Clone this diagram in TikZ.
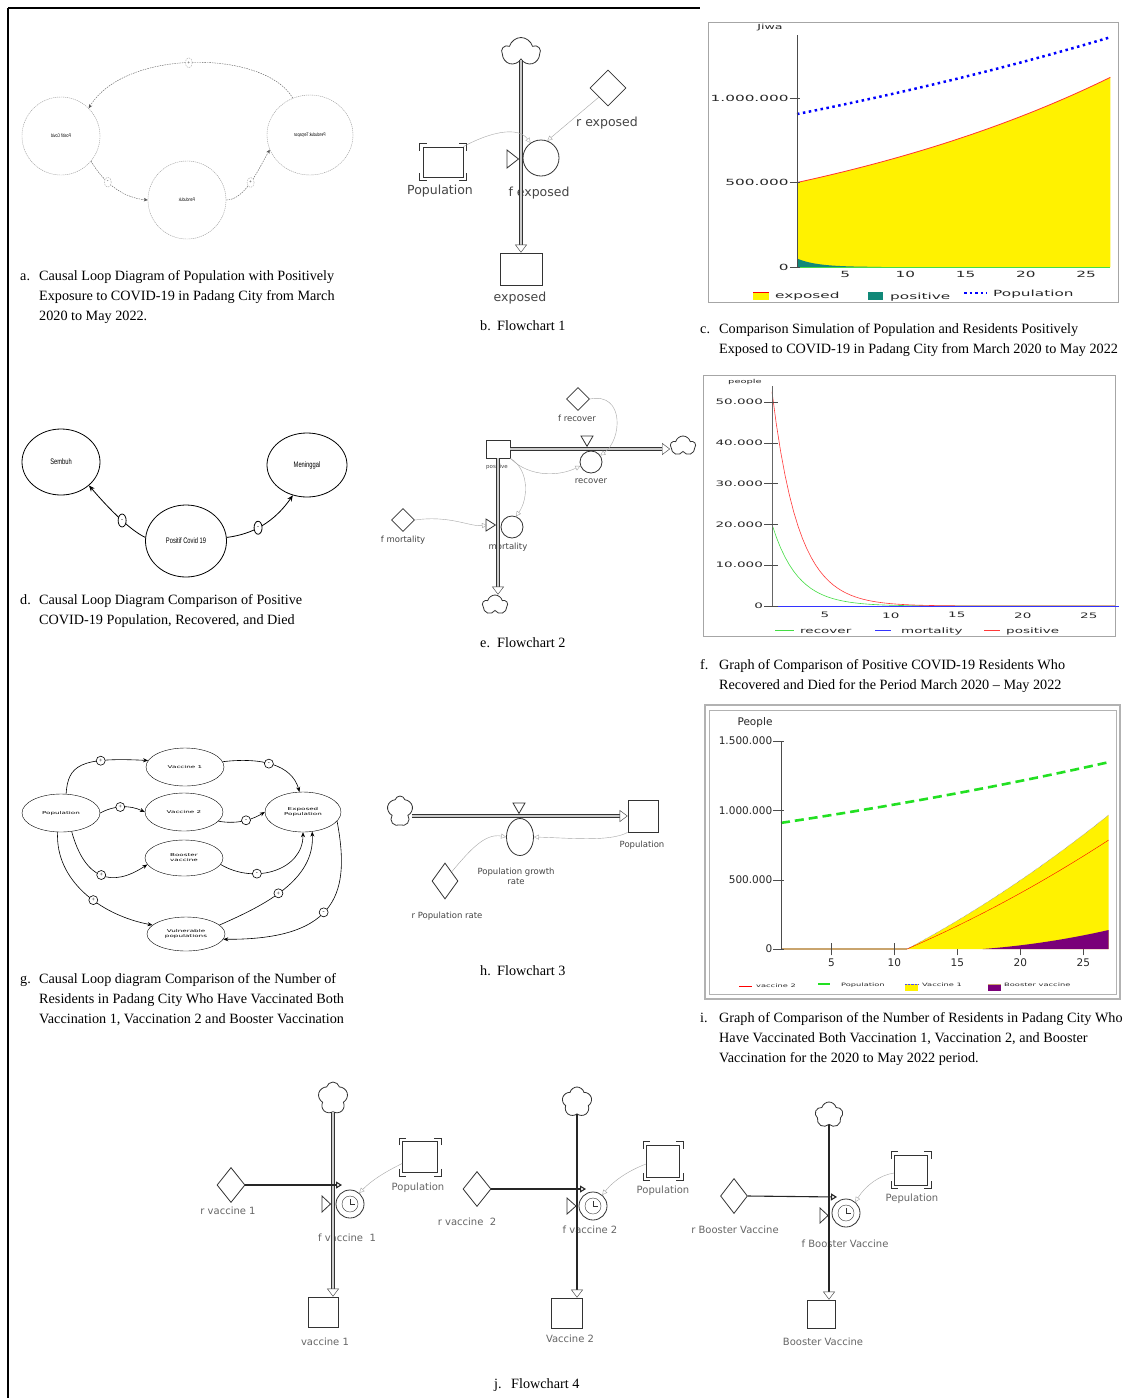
\documentclass[tikz,border=0pt]{standalone}
\usepackage{graphicx}
\usepackage{fontspec}
\setmainfont{Liberation Serif}
\newfontfamily\capfont{Liberation Serif}
\newfontfamily\flowfont{DejaVu Sans}
\newfontfamily\chartfont[FakeStretch=1.8]{DejaVu Sans}
\newfontfamily\narrowfont[FakeStretch=0.72]{Liberation Sans}
\usetikzlibrary{arrows.meta,shapes.geometric,shapes.symbols,calc}

\definecolor{tanline}{HTML}{C9A46E}
\definecolor{lblgray}{HTML}{454545}
\definecolor{popgreen}{HTML}{22E022}
\definecolor{boostpurple}{HTML}{7A0079}
\definecolor{posteal}{HTML}{108878}
\definecolor{recgreen}{HTML}{44DD44}
\definecolor{posred}{HTML}{FF3838}

% corner brackets of a shadow stock
\newcommand\ghostmarks[1]{%
  \foreach \a/\cx/\cy/\vy/\hx in {north west/-3/3/-4/4, north east/3/3/-4/-4, south west/-3/-3/4/4, south east/3/-3/4/-4}
    \draw[thick,black!80] ([shift={(\cx pt,\vy pt)}]#1.\a) -- ([shift={(\cx pt,\cy pt)}]#1.\a) -- ([shift={(\hx pt,\cy pt)}]#1.\a);}
% clock face inside a flow circle
\newcommand\clockface[1]{%
  \draw[black!80] (#1.center) circle (8);
  \draw[black!80] (#1.center) -- ++(0,-5.5) (#1.center) -- ++(4.5,0);}

\begin{document}
\begin{tikzpicture}[x=1pt,y=-1pt,>=stealth,
  capt/.style={font=\capfont\fontsize{14.2}{20}\selectfont, align=left, anchor=north west, inner sep=0pt},
  cldc/.style={circle, draw=gray!80, dash pattern=on 1.2pt off 0.8pt, minimum size=78pt, inner sep=0pt, font=\narrowfont\fontsize{5}{6}\selectfont},
  cldarrA/.style={draw=gray!70!black, dash pattern=on 1.5pt off 1pt, -{Stealth[length=4pt,width=3.5pt]}},
  sgnA/.style={ellipse, draw=gray!70, fill=white, inner sep=0pt, minimum width=7pt, minimum height=10pt, font=\fontsize{5}{5}\selectfont},
  clde/.style={ellipse, draw, thick, inner sep=0pt, font=\narrowfont\fontsize{8}{9}\selectfont},
  cldarrD/.style={thick, -{Stealth[length=6pt,width=5pt]}},
  sgnD/.style={ellipse, draw, fill=white, inner sep=0pt, minimum width=8pt, minimum height=13pt, font=\fontsize{6}{6}\selectfont},
  cldg/.style={ellipse, draw, inner sep=0pt, minimum width=78pt, minimum height=38pt, align=center, font=\chartfont\fontsize{4}{5}\selectfont},
  cldarrG/.style={semithick, -{Stealth[length=5pt,width=4pt]}},
  sgnG/.style={circle, draw, fill=white, inner sep=0pt, minimum size=9pt, font=\fontsize{6}{6}\selectfont},
  stock/.style={rectangle, draw=black!80, thick, fill=white, inner sep=0pt},
  aux/.style={diamond, draw=black!80, thick, fill=white, inner sep=0pt},
  flowc/.style={circle, draw=black!80, thick, fill=white, inner sep=0pt},
  valvetri/.style={draw=black!80, thick, fill=white},
  cloudsym/.style={cloud, cloud puffs=5, cloud ignores aspect, draw=black!80, thick, fill=white, inner sep=0pt},
  pipe/.style={draw=black!80, double=gray!40, double distance=2.4pt, line width=0.8pt},
  pipesolid/.style={draw=black!85, line width=1.6pt},
  ptip/.style={-{Triangle[fill=white,length=8pt,width=12pt]}, draw=black!80, thin},
  link/.style={draw=gray!70, thin, -{Triangle[open,length=5pt,width=5pt]}},
  ratearr/.style={draw=black!85, line width=1.1pt, -{Triangle[open,length=6pt,width=7pt]}},
  flowlbl/.style={text=lblgray, inner sep=1pt, font=\flowfont\fontsize{12.5}{14}\selectfont},
  lble/.style={text=lblgray, inner sep=1pt, font=\flowfont\fontsize{8.5}{10}\selectfont},
  lblj/.style={text=black!60, inner sep=1pt, font=\flowfont\fontsize{10}{12}\selectfont},
  ctxt/.style={text=black!85, inner sep=1pt, font=\chartfont\fontsize{8.5}{9}\selectfont},
  ftxt/.style={text=black!85, inner sep=1pt, font=\chartfont\fontsize{7.5}{8}\selectfont},
  itxt/.style={text=black!85, inner sep=1pt, font=\flowfont\fontsize{10.5}{12}\selectfont},
  ileg/.style={text=black!85, inner sep=1pt, anchor=west, font=\chartfont\fontsize{4.6}{5}\selectfont}]
\fill[white] (0,0) rectangle (1129,1398);
\useasboundingbox (0,0) rectangle (1129,1398);
% page rules
\draw[line width=2pt] (8,8) -- (700,8);
\draw[line width=1.2pt] (8,8) -- (8,1398);

% a: causal loop, positif covid
\begin{scope}
\node[cldc] (aPos) at (61,136) {\scalebox{-1}[1]{Positif Covid}};
\node[cldc] (aPen) at (187,200) {\scalebox{-1}[1]{Penduduk}};
\node[cldc, ellipse, minimum width=86pt, minimum height=80pt] (aTer) at (310,135) {\scalebox{-1}[1]{Penduduk Terpapar}};
\draw[cldarrA] (aTer.115) .. controls (265,50) and (125,48) .. (aPos.45) node[sgnA, pos=0.52] (aS1) {+};
\draw[cldarrA] (aPos.-40) .. controls (105,185) and (125,198) .. (aPen.west) node[sgnA, pos=0.35] (aS2) {-};
\draw[cldarrA] (aPen.east) .. controls (245,200) and (258,170) .. (aTer.200) node[sgnA, pos=0.5] (aS3) {+};
\end{scope}

% b: flowchart 1
\begin{scope}
\node[cloudsym, minimum width=38pt, minimum height=29pt] (bCloud) at (521,52) {};
\node[stock, minimum width=42pt, minimum height=32pt] (bExp) at (521,269) {};
\node[flowlbl] (bExpL) at (520,298) {exposed};
\node[flowlbl] (bFlowL) at (539,193) {f exposed};
\coordinate (bEnd) at (bCloud.south |- bExp.north);
\draw[pipe] (bCloud.south) -- ([yshift=8pt]bEnd);
\draw[ptip] ([yshift=8pt]bEnd) -- (bEnd);
\draw[valvetri] (507,150) -- (518.5,159) -- (507,168) -- cycle;
\node[flowc, minimum size=36pt] (bFlow) at (541,158) {};
\node[stock, minimum width=40pt, minimum height=30pt] (bPop) at (443,162) {};
\ghostmarks{bPop}
\node[flowlbl] (bPopL) at (440,191) {Population};
\node[aux, minimum size=36pt] (bRate) at (608,88) {};
\node[flowlbl] (bRateL) at (607,123) {r exposed};
\draw[link] (bPop.north east) .. controls (490,132) and (518,126) .. (bFlow.125);
\draw[link] (bRate.south west) -- (bFlow.70);
\end{scope}

% c: graph, population and exposed
\begin{scope}
\draw[gray!70] (708,22) rectangle (1118,302);
\begin{scope}[shift={(797,267)}, x=12.05pt, y=169pt]
\fill[yellow] (0,0) -- plot[domain=0:26,samples=40] (\x,{0.5*exp(0.0311*\x)}) -- (26,0) -- cycle;
\draw[red!80, line width=0.8pt] plot[domain=0:26,samples=40] (\x,{0.5*exp(0.0311*\x)});
\fill[posteal] (0,0) -- plot[domain=0:7,samples=20] (\x,{0.05*exp(-0.6*\x)}) -- (7,0) -- cycle;
\draw[recgreen] (0,0) -- (26,0);
\draw[blue, line width=2.5pt, dash pattern=on 2.5pt off 3.5pt] plot[domain=0:26,samples=40] (\x,{0.905*exp(0.01566*\x)});
\draw[black!70] (0,0) -- (0,1.37);
\foreach \v/\l [count=\i] in {0/0, 0.5/500.000, 1/1.000.000} {
  \draw[black!70] (-0.6,\v) -- (0.25,\v);
  \node[ctxt, anchor=east] (cy\i) at (-0.6,\v) {\l};
}
\foreach \t in {5,10,...,25}
  \node[ctxt, anchor=north] (cx\t) at (\t-1,-0.02) {\t};
\end{scope}
\node[ctxt, font=\chartfont\fontsize{7}{8}\selectfont] (cJiwa) at (770,28) {Jiwa};
\fill[yellow] (753,292) rectangle (769,300);
\draw[red, line width=1pt] (753,292) -- (769,292);
\node[ctxt, anchor=west] (cLgExp) at (774,296) {exposed};
\fill[posteal] (868,292) rectangle (883,300);
\node[ctxt, anchor=west] (cLgPos) at (889,297) {positive};
\draw[blue, line width=2.5pt, dash pattern=on 2.5pt off 3pt] (964,293) -- (987,293);
\node[ctxt, anchor=west] (cLgPop) at (992,294) {Population};
\end{scope}

% d: causal loop, positive covid
\begin{scope}
\node[clde, minimum width=78pt, minimum height=66pt] (dSem) at (61,462) {Sembuh};
\node[clde, minimum width=80pt, minimum height=64pt] (dMen) at (307,465) {Meninggal};
\node[clde, minimum width=81pt, minimum height=72pt] (dPos) at (186,541) {Positif Covid 19};
\draw[cldarrD] (dPos.175) .. controls (130,530) and (110,510) .. (dSem.-40) node[sgnD, pos=0.45] (dS1) {-};
\draw[cldarrD] (dPos.5) .. controls (245,535) and (270,528) .. (dMen.-115) node[sgnD, pos=0.5] (dS2) {-};
\end{scope}

% e: flowchart 2
\begin{scope}
\node[stock, minimum width=24pt, minimum height=18pt] (ePos) at (498,449) {};
\node[lble, font=\flowfont\fontsize{5.5}{6}\selectfont] (ePosL) at (497,467) {positive};
\node[cloudsym, minimum width=25pt, minimum height=20pt] (eCloudR) at (683,446) {};
\node[cloudsym, minimum width=25pt, minimum height=20pt] (eCloudB) at (495,605) {};
\node[lble] (eMortL) at (508,547) {mortality};
\coordinate (eEndR) at (eCloudR.west |- ePos.east);
\draw[pipe] (ePos.east) -- ([xshift=-8pt]eEndR);
\draw[ptip] ([xshift=-8pt]eEndR) -- (eEndR);
\coordinate (eEndB) at (ePos.south |- eCloudB.north);
\draw[pipe] (ePos.south) -- ([yshift=8pt]eEndB);
\draw[ptip] ([yshift=8pt]eEndB) -- (eEndB);
\draw[valvetri] (581,436) -- (593,436) -- (587,446.3) -- cycle;
\node[flowc, minimum size=22pt] (eRec) at (591,462) {};
\node[lble] (eRecL) at (591,481) {recover};
\node[aux, minimum size=23pt] (eFR) at (578,399) {};
\node[lble] (eFRL) at (577,418) {f recover};
\draw[valvetri] (486,519) -- (495.4,525) -- (486,531) -- cycle;
\node[flowc, minimum size=22pt] (eMort) at (512,527) {};
\node[aux, minimum size=23pt] (eFM) at (403,520) {};
\node[lble] (eFML) at (403,540) {f mortality};
\coordinate (eMortIn) at (487,525);
\draw[link] (eFR.east) .. controls (625,392) and (622,440) .. (eRec.35);
\draw[link] (ePos.south east) .. controls (530,478) and (560,476) .. (eRec.200);
\draw[link] (ePos.south east) .. controls (530,470) and (528,500) .. (eMort.70);
\draw[link] (eFM.east) .. controls (450,515) and (470,527) .. (eMortIn);
\end{scope}

% f: graph, positive recover mortality
\begin{scope}
\draw[gray!70] (703,375) rectangle (1115,636);
\begin{scope}[shift={(772,606)}, x=13.2pt, y=4.08pt]
\draw[recgreen, semithick] plot[domain=0:26,samples=80] (\x,{20*exp(-0.52*\x)});
\draw[posred, semithick] plot[domain=0:26,samples=80] (\x,{52.5*exp(-0.5*\x)});
\draw[blue!80, semithick] (0,0) -- (26.3,0);
\draw[black!60] (0,0) -- (0,54);
\foreach \v/\l [count=\i] in {0/0, 10/10.000, 20/20.000, 30/30.000, 40/40.000, 50/50.000} {
  \draw[black!70] (-0.6,\v) -- (0.45,\v);
  \node[ftxt, anchor=east] (fy\i) at (-0.6,\v) {\l};
}
\foreach \t in {5,10,...,25}
  \node[ftxt, anchor=north] (fx\t) at (\t-1,-1.3) {\t};
\end{scope}
\node[ftxt, font=\chartfont\fontsize{5.5}{6}\selectfont] (fPeople) at (745,382) {people};
\draw[recgreen, semithick] (775,630) -- (794,630);
\node[ftxt, anchor=west] (fLgRec) at (799,631) {recover};
\draw[blue!80, semithick] (875,630) -- (891,630);
\node[ftxt, anchor=west] (fLgMort) at (900,631) {mortality};
\draw[posred, semithick] (984,630) -- (1000,630);
\node[ftxt, anchor=west] (fLgPos) at (1005,631) {positive};
\end{scope}

% g: causal loop, vaccination
\begin{scope}
\node[cldg] (gPop) at (61,813) {Population};
\node[cldg] (gV1) at (185,767) {Vaccine 1};
\node[cldg] (gV2) at (184,812) {Vaccine 2};
\node[cldg, minimum height=36pt] (gBo) at (184,858) {Booster\\vaccine};
\node[cldg, minimum width=76pt, minimum height=40pt] (gEx) at (303,812) {Exposed\\Population};
\node[cldg, minimum height=34pt] (gVu) at (186,934) {Vulnerable\\populations};
\draw[cldarrG] (gPop.75) .. controls (68,765) and (80,757) .. (gV1.170) node[sgnG, pos=0.7] (gS1) {+};
\draw[cldarrG] (gV1.8) .. controls (262,757) and (292,765) .. (gEx.100) node[sgnG, pos=0.45] (gS2) {-};
\draw[cldarrG] (gPop.east) .. controls (115,805) and (130,805) .. (gV2.west) node[sgnG, pos=0.45] (gS3) {+};
\draw[cldarrG] (gV2.-15) .. controls (240,825) and (255,818) .. (gEx.west) node[sgnG, pos=0.5] (gS4) {-};
\draw[cldarrG] (gPop.-60) .. controls (85,880) and (112,888) .. (gBo.190) node[sgnG, pos=0.5] (gS5) {+};
\draw[cldarrG] (gBo.-10) .. controls (255,885) and (303,870) .. (gEx.south) node[sgnG, pos=0.33] (gS6) {-};
\draw[cldarrG] (gPop.-100) .. controls (55,880) and (100,915) .. (gVu.165) node[sgnG, pos=0.58] (gS7) {+};
\draw[cldarrG] (gVu.15) .. controls (265,905) and (315,880) .. (gEx.-65) node[sgnG, pos=0.45] (gS8) {+};
\draw[cldarrG] (gEx.-15) .. controls (350,890) and (340,940) .. (gVu.-8) node[sgnG, pos=0.55] (gS9) {-};
\end{scope}

% h: flowchart 3
\begin{scope}
\node[cloudsym, minimum width=26pt, minimum height=30pt] (hCloud) at (400,811) {};
\node[stock, minimum width=30pt, minimum height=32pt] (hPop) at (643,816) {};
\node[lble] (hPopL) at (642,845) {Population};
\coordinate (hEnd) at (hPop.west);
\draw[pipe] (hCloud.east |- hEnd) -- ([xshift=-8pt]hEnd);
\draw[ptip] ([xshift=-8pt]hEnd) -- (hEnd);
\draw[valvetri] (513,803) -- (525,803) -- (519,813.4) -- cycle;
\node[flowc, ellipse, minimum width=27pt, minimum height=37pt] (hRate) at (520,837) {};
\node[lble, align=center] (hRateL) at (516,876) {Population growth\\rate};
\node[aux, minimum width=26pt, minimum height=36pt] (hR) at (445,881) {};
\node[lble] (hRL) at (447,916) {r Population rate};
\draw[link] (hR.north east) .. controls (470,850) and (485,833) .. (hRate.west);
\draw[link] (hPop.south west) .. controls (610,842) and (570,838) .. (hRate.east);
\end{scope}

% i: graph, vaccination
\begin{scope}
\draw[gray!60, line width=1.2pt] (705,705) rectangle (1120,999);
\draw[gray!60, thin] (709,710) rectangle (1116,994);
\begin{scope}[shift={(781,949)}, x=12.6pt, y=138.6pt]
\draw[posred!60, thin] (0,0.004) -- (10,0.004);
\draw[tanline, line width=1.2pt] (0,0) -- (10,0);
\foreach \t in {5,10,...,25}
  \draw[black!70] (\t-1,-0.045) -- (\t-1,0.045);
\fill[yellow] (10,0) -- plot[domain=10:26,samples=30] (\x,{0.967*(0.8*(\x-10)/16+0.2*((\x-10)/16)^2)}) -- (26,0) -- cycle;
\draw[blue!70, densely dotted, thin] plot[domain=10:26,samples=30] (\x,{0.967*(0.8*(\x-10)/16+0.2*((\x-10)/16)^2)});
\draw[red, thin] plot[domain=10:26,samples=30] (\x,{0.786*(0.8*(\x-10)/16+0.2*((\x-10)/16)^2)});
\fill[boostpurple] (16,0) -- plot[domain=16:26,samples=20] (\x,{0.137*(0.5*(\x-16)/10+0.5*((\x-16)/10)^2)}) -- (26,0) -- cycle;
\draw[popgreen, line width=2.6pt, dash pattern=on 9pt off 5pt] plot[domain=0:26,samples=40] (\x,{0.91*exp(0.0151*\x)});
\draw[black!70] (0,0) -- (0,1.5);
\foreach \v/\l [count=\i] in {0/0, 0.5/500.000, 1/1.000.000, 1.5/1.500.000} {
  \draw[black!70] (-0.62,\v) -- (0.25,\v);
  \node[itxt, anchor=east] (iy\i) at (-0.6,\v) {\l};
}
\foreach \t in {5,10,...,25}
  \node[itxt, anchor=north] (ix\t) at (\t-1,-0.06) {\t};
\end{scope}
\node[itxt] (iPeople) at (755,723) {People};
\draw[red, thin] (739,986) -- (752,986);
\node[ileg] (iLgV2) at (755,986) {vaccine 2};
\draw[popgreen, line width=2.5pt] (818,984) -- (830,984);
\node[ileg] (iLgPop) at (840,985) {Population};
\fill[yellow] (905,984) rectangle (918,991);
\draw[blue!70, densely dotted] (905,984) -- (918,984);
\node[ileg] (iLgV1) at (921,985) {Vaccine 1};
\fill[boostpurple] (988,984) rectangle (1001,991);
\draw[tanline, thick] (988,984) -- (1001,984);
\node[ileg] (iLgBo) at (1003,985) {Booster vaccine};
\end{scope}

% j: flowchart 4, vaccine 1
\begin{scope}
\node[cloudsym, minimum width=30pt, minimum height=32pt] (jC1) at (333,1098) {};
\node[stock, minimum width=30pt, minimum height=30pt] (jS1) at (323,1312) {};
\node[lblj] (jS1L) at (325,1342) {vaccine 1};
\node[lblj] (jF1L) at (347,1238) {f vaccine\ \ 1};
\coordinate (jE1) at (jC1.south |- jS1.north);
\draw[pipe] (jC1.south) -- ([yshift=8pt]jE1);
\draw[ptip] ([yshift=8pt]jE1) -- (jE1);
\node[aux, minimum width=28pt, minimum height=35pt] (jR1) at (231,1185) {};
\node[lblj] (jR1L) at (228,1211) {r vaccine 1};
\coordinate (jIn1) at (342,1185);
\draw[ratearr] (jR1.east) -- (jIn1);
\draw[valvetri] (322,1196) -- (330.5,1204) -- (322,1212) -- cycle;
\node[flowc, minimum size=28pt] (jF1) at (350,1204) {};
\clockface{jF1}
\node[stock, minimum width=35pt, minimum height=31pt] (jP1) at (420,1157) {};
\ghostmarks{jP1}
\node[lblj] (jP1L) at (418,1188) {Population};
\draw[link] (jP1.200) .. controls (385,1172) and (372,1180) .. (jF1.50);
\end{scope}

% j: flowchart 4, vaccine 2
\begin{scope}
\node[cloudsym, minimum width=30pt, minimum height=30pt] (jC2) at (577,1102) {};
\node[stock, minimum width=31pt, minimum height=30pt] (jS2) at (567,1313) {};
\node[lblj] (jS2L) at (570,1339) {Vaccine 2};
\node[lblj] (jF2L) at (590,1230) {f vaccine 2};
\coordinate (jE2) at (jC2.south |- jS2.north);
\draw[pipesolid] (jC2.south) -- ([yshift=8pt]jE2);
\draw[ptip] ([yshift=8pt]jE2) -- (jE2);
\node[aux, minimum width=28pt, minimum height=35pt] (jR2) at (477,1189) {};
\node[lblj] (jR2L) at (467,1222) {r vaccine\ \ 2};
\coordinate (jIn2) at (586,1189);
\draw[ratearr] (jR2.east) -- (jIn2);
\draw[valvetri] (567,1198) -- (576,1206) -- (567,1214) -- cycle;
\node[flowc, minimum size=28pt] (jF2) at (593,1206) {};
\clockface{jF2}
\node[stock, minimum width=33pt, minimum height=32pt] (jP2) at (663,1161) {};
\ghostmarks{jP2}
\node[lblj] (jP2L) at (663,1191) {Population};
\draw[link] (jP2.190) .. controls (630,1170) and (614,1180) .. (jF2.50);
\end{scope}

% j: flowchart 4, booster
\begin{scope}
\node[cloudsym, minimum width=28pt, minimum height=26pt] (jC3) at (829,1115) {};
\node[stock, minimum width=28pt, minimum height=28pt] (jS3) at (821,1314) {};
\node[lblj] (jS3L) at (823,1342) {Booster Vaccine};
\node[lblj] (jF3L) at (845,1244) {f Booster Vaccine};
\coordinate (jE3) at (jC3.south |- jS3.north);
\draw[pipesolid] (jC3.south) -- ([yshift=8pt]jE3);
\draw[ptip] ([yshift=8pt]jE3) -- (jE3);
\node[aux, minimum width=27pt, minimum height=35pt] (jR3) at (734,1196) {};
\node[lblj] (jR3L) at (735,1230) {r Booster Vaccine};
\coordinate (jIn3) at (837,1197);
\draw[ratearr] (jR3.east) -- (jIn3);
\draw[valvetri] (820,1208) -- (828,1215.5) -- (820,1223) -- cycle;
\node[flowc, minimum size=28pt] (jF3) at (846,1213) {};
\clockface{jF3}
\node[stock, minimum width=33pt, minimum height=30pt] (jP3) at (911,1170) {};
\ghostmarks{jP3}
\node[lblj] (jP3L) at (912,1199) {Pepulation};
\draw[link] (jP3.190) .. controls (880,1175) and (866,1185) .. (jF3.50);
\end{scope}

% captions
\node[capt] (capA) at (20,270.5) {\makebox[19pt][l]{a.}Causal Loop Diagram of Population with Positively\\\hspace*{19pt}Exposure to COVID-19 in Padang City from March\\\hspace*{19pt}2020 to May 2022.};
\node[capt] (capB) at (480,320.5) {\makebox[17pt][l]{b.}Flowchart 1};
\node[capt] (capC) at (700,323.5) {\makebox[19pt][l]{c.}Comparison Simulation of Population and Residents Positively\\\hspace*{19pt}Exposed to COVID-19 in Padang City from March 2020 to May 2022};
\node[capt] (capD) at (20,594.5) {\makebox[19pt][l]{d.}Causal Loop Diagram Comparison of Positive\\\hspace*{19pt}COVID-19 Population, Recovered, and Died};
\node[capt] (capE) at (480,637.5) {\makebox[17pt][l]{e.}Flowchart 2};
\node[capt] (capF) at (700,659.5) {\makebox[19pt][l]{f.}Graph of Comparison of Positive COVID-19 Residents Who\\\hspace*{19pt}Recovered and Died for the Period March 2020 – May 2022};
\node[capt] (capG) at (20,973.5) {\makebox[19pt][l]{g.}Causal Loop diagram Comparison of the Number of\\\hspace*{19pt}Residents in Padang City Who Have Vaccinated Both\\\hspace*{19pt}Vaccination 1, Vaccination 2 and Booster Vaccination};
\node[capt] (capH) at (480,965.5) {\makebox[17pt][l]{h.}Flowchart 3};
\node[capt] (capI) at (700,1012.5) {\makebox[19pt][l]{i.}Graph of Comparison of the Number of Residents in Padang City Who\\\hspace*{19pt}Have Vaccinated Both Vaccination 1, Vaccination 2, and Booster\\\hspace*{19pt}Vaccination for the 2020 to May 2022 period.};
\node[capt] (capJ) at (494,1378.5) {\makebox[17pt][l]{j.}Flowchart 4};
\end{tikzpicture}
\end{document}
